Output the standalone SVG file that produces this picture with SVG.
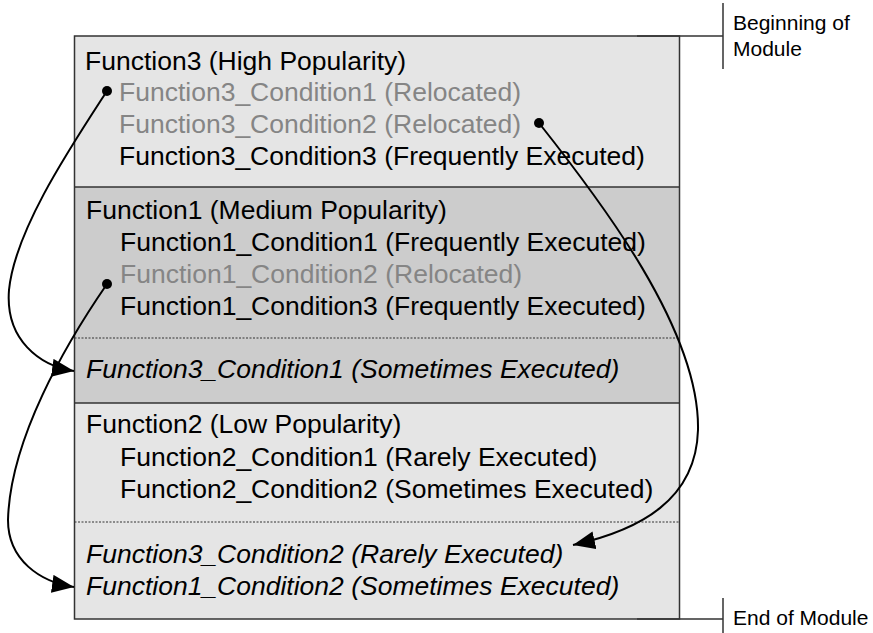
<svg xmlns="http://www.w3.org/2000/svg" width="873" height="633" viewBox="0 0 873 633">
<style>
.t{font-family:"Liberation Sans",Arial,sans-serif;font-size:26.5px;fill:#000}
.g{fill:#858585}
.i{font-style:italic}
.lab{font-family:"Liberation Sans",Arial,sans-serif;font-size:21px;fill:#000}
.sec{stroke:#333;stroke-width:1.5}
.dot{stroke:#333;stroke-width:1;stroke-dasharray:2,1.5}
.conn{fill:none;stroke:#000;stroke-width:2}
.lead{stroke:#333;stroke-width:1.5;fill:none}
</style>
<defs>
<marker id="ah" markerUnits="userSpaceOnUse" markerWidth="26" markerHeight="20" refX="22" refY="9" orient="auto">
<path d="M0,0 L22,9 L0,18 Z" fill="#000"/>
</marker>
</defs>
<rect x="0" y="0" width="873" height="633" fill="#fff"/>
<g id="module">
<rect x="74.5" y="36" width="605" height="151" fill="#e5e5e5"/>
<rect x="74.5" y="187" width="605" height="216" fill="#cccccc"/>
<rect x="74.5" y="403" width="605" height="216" fill="#e5e5e5"/>
<line class="sec" x1="74.5" y1="187" x2="679.5" y2="187"/>
<line class="sec" x1="74.5" y1="403" x2="679.5" y2="403"/>
<line class="dot" x1="74.5" y1="338" x2="679.5" y2="338"/>
<line class="dot" x1="74.5" y1="522" x2="679.5" y2="522"/>
<rect x="74.5" y="36" width="605" height="583" fill="none" stroke="#333" stroke-width="1.5"/>
</g>
<g id="function3">
<text class="t" x="85" y="70">Function3 (High Popularity)</text>
<text class="t g" x="119" y="101">Function3_Condition1 (Relocated)</text>
<text class="t g" x="119" y="133">Function3_Condition2 (Relocated)</text>
<text class="t" x="119" y="165">Function3_Condition3 (Frequently Executed)</text>
</g>
<g id="function1">
<text class="t" x="86" y="219">Function1 (Medium Popularity)</text>
<text class="t" x="120" y="251">Function1_Condition1 (Frequently Executed)</text>
<text class="t g" x="120" y="283">Function1_Condition2 (Relocated)</text>
<text class="t" x="120" y="315">Function1_Condition3 (Frequently Executed)</text>
</g>
<g id="relocated1">
<text class="t i" x="86" y="378">Function3_Condition1 (Sometimes Executed)</text>
</g>
<g id="function2">
<text class="t" x="86" y="433">Function2 (Low Popularity)</text>
<text class="t" x="120" y="466">Function2_Condition1 (Rarely Executed)</text>
<text class="t" x="120" y="498">Function2_Condition2 (Sometimes Executed)</text>
</g>
<g id="relocated2">
<text class="t i" x="86" y="563">Function3_Condition2 (Rarely Executed)</text>
<text class="t i" x="86" y="595">Function1_Condition2 (Sometimes Executed)</text>
</g>
<g id="beginLabel">
<path class="lead" d="M637,36 H723 M723,3 V69"/>
<text class="lab" x="733" y="30">Beginning of</text>
<text class="lab" x="733" y="56">Module</text>
</g>
<g id="endLabel">
<path class="lead" d="M637,619 H723 M723,598 V633"/>
<text class="lab" x="733" y="625">End of Module</text>
</g>
<g id="connectors">
<circle cx="107" cy="91" r="5" fill="#000"/>
<path class="conn" d="M107,91 C70,148 15,230 9,290 C5,340 40,366 74,371" marker-end="url(#ah)"/>
<circle cx="107" cy="284" r="5" fill="#000"/>
<path class="conn" d="M107,284 C65,345 10,440 8,520 C8,560 40,582 74,587" marker-end="url(#ah)"/>
<circle cx="539" cy="123" r="5" fill="#000"/>
<path class="conn" d="M539,123 C600,200 700,330 698,430 C696,500 640,530 573,545" marker-end="url(#ah)"/>
</g>
</svg>
